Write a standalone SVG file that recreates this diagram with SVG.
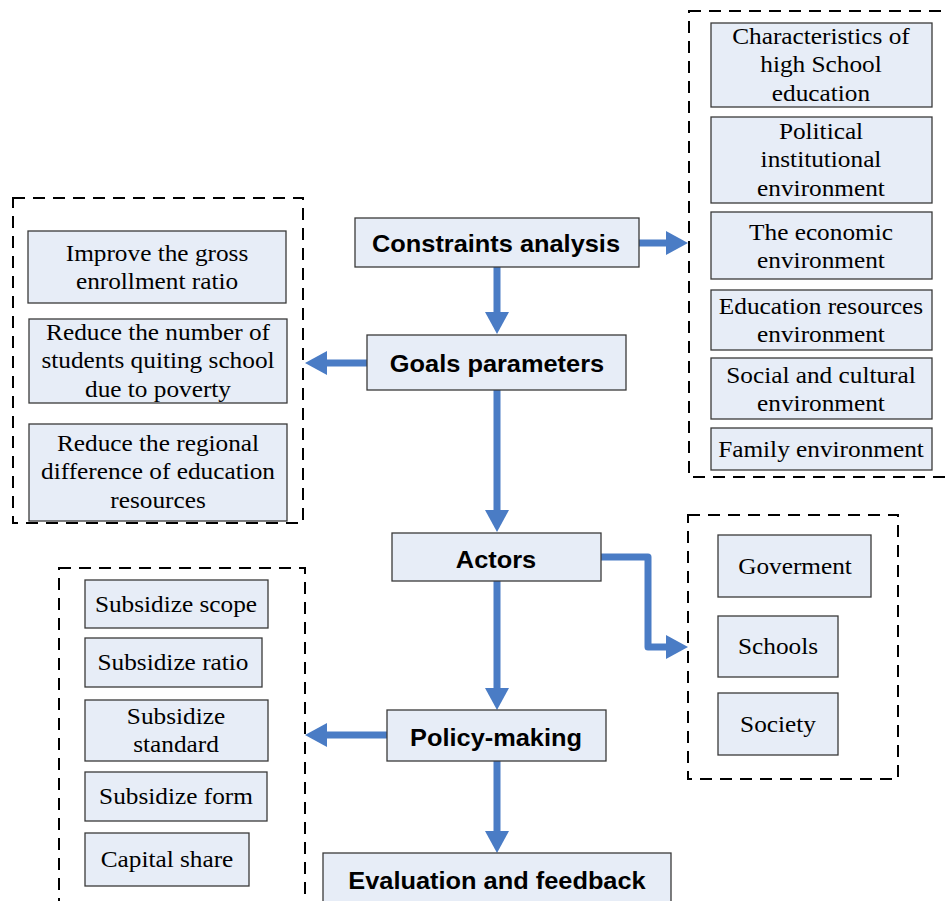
<svg xmlns="http://www.w3.org/2000/svg" width="946" height="901" viewBox="0 0 946 901">
<style>
.bg{fill:#ffffff}
.box{fill:#E7EDF7;stroke:#3a3a3a;stroke-width:1.3}
.dash{fill:none;stroke:#000;stroke-width:2;stroke-dasharray:12 8}
.main{font-family:"Liberation Sans",Arial,sans-serif;font-weight:bold;font-size:23.5px;fill:#000;text-anchor:middle}
.sub{font-family:"Liberation Serif","Times New Roman",serif;font-size:23px;fill:#000;text-anchor:middle}
.conn{fill:none;stroke:#4A7CC5;stroke-width:7;stroke-linecap:round;stroke-linejoin:round}
</style>
<defs>
<marker id="ah" viewBox="0 0 22 24" refX="0" refY="12" markerWidth="22" markerHeight="24" markerUnits="userSpaceOnUse" orient="auto">
<path d="M0,0 L22,12 L0,24 Z" fill="#4A7CC5"/>
</marker>
</defs>
<rect class="bg" x="0" y="0" width="946" height="901"/>

<g id="groups">
<rect id="constraints-group" class="dash" x="689" y="11" width="265" height="466"/>
<rect id="goals-group" class="dash" x="13" y="198" width="290" height="325"/>
<rect id="actors-group" class="dash" x="688" y="515" width="210" height="264"/>
<rect id="policy-group" class="dash" x="59" y="568" width="246" height="345"/>
</g>

<g id="connectors">
<path class="conn" d="M497,267 V312" marker-end="url(#ah)"/>
<path class="conn" d="M639,243 H666" marker-end="url(#ah)"/>
<path class="conn" d="M367,363 H327" marker-end="url(#ah)"/>
<path class="conn" d="M497,390 V510" marker-end="url(#ah)"/>
<path class="conn" d="M601,557 H648 V647 H666" marker-end="url(#ah)"/>
<path class="conn" d="M497,581 V688" marker-end="url(#ah)"/>
<path class="conn" d="M387,735 H327" marker-end="url(#ah)"/>
<path class="conn" d="M497,761 V831" marker-end="url(#ah)"/>
</g>

<g id="n-constraints"><rect class="box" x="355" y="218" width="284" height="49"/>
<text class="main" transform="translate(496 252) scale(1.08 1)">Constraints analysis</text></g>
<g id="n-goals"><rect class="box" x="367" y="335" width="259" height="55"/>
<text class="main" transform="translate(497 372) scale(1.08 1)">Goals parameters</text></g>
<g id="n-actors"><rect class="box" x="392" y="533" width="209" height="48"/>
<text class="main" transform="translate(496 568) scale(1.08 1)">Actors</text></g>
<g id="n-policy"><rect class="box" x="387" y="710" width="219" height="51"/>
<text class="main" transform="translate(496 746) scale(1.08 1)">Policy-making</text></g>
<g id="n-eval"><rect class="box" x="323" y="853" width="348" height="60"/>
<text class="main" transform="translate(497 889) scale(1.08 1)">Evaluation and feedback</text></g>

<g id="n-c1"><rect class="box" x="711" y="23" width="221" height="84"/>
<text class="sub" transform="translate(821 44) scale(1.1 1)"><tspan x="0" y="0">Characteristics of</tspan><tspan x="0" y="28.5">high School</tspan><tspan x="0" y="57">education</tspan></text></g>
<g id="n-c2"><rect class="box" x="711" y="117" width="221" height="86"/>
<text class="sub" transform="translate(821 139) scale(1.1 1)"><tspan x="0" y="0">Political</tspan><tspan x="0" y="28.5">institutional</tspan><tspan x="0" y="57">environment</tspan></text></g>
<g id="n-c3"><rect class="box" x="711" y="212" width="221" height="67"/>
<text class="sub" transform="translate(821 240) scale(1.1 1)"><tspan x="0" y="0">The economic</tspan><tspan x="0" y="28.5">environment</tspan></text></g>
<g id="n-c4"><rect class="box" x="711" y="290" width="221" height="60"/>
<text class="sub" transform="translate(821 314) scale(1.1 1)"><tspan x="0" y="0">Education resources</tspan><tspan x="0" y="28.5">environment</tspan></text></g>
<g id="n-c5"><rect class="box" x="711" y="358" width="221" height="61"/>
<text class="sub" transform="translate(821 383) scale(1.1 1)"><tspan x="0" y="0">Social and cultural</tspan><tspan x="0" y="28.5">environment</tspan></text></g>
<g id="n-c6"><rect class="box" x="711" y="428" width="221" height="42"/>
<text class="sub" transform="translate(821 457) scale(1.1 1)">Family environment</text></g>

<g id="n-g1"><rect class="box" x="28" y="231" width="258" height="72"/>
<text class="sub" transform="translate(157 261) scale(1.1 1)"><tspan x="0" y="0">Improve the gross</tspan><tspan x="0" y="28.5">enrollment ratio</tspan></text></g>
<g id="n-g2"><rect class="box" x="29" y="319" width="258" height="84"/>
<text class="sub" transform="translate(158 340) scale(1.1 1)"><tspan x="0" y="0">Reduce the number of</tspan><tspan x="0" y="28.5">students quiting school</tspan><tspan x="0" y="57">due to poverty</tspan></text></g>
<g id="n-g3"><rect class="box" x="29" y="424" width="258" height="97"/>
<text class="sub" transform="translate(158 451) scale(1.1 1)"><tspan x="0" y="0">Reduce the regional</tspan><tspan x="0" y="28.5">difference of education</tspan><tspan x="0" y="57">resources</tspan></text></g>

<g id="n-a1"><rect class="box" x="718" y="535" width="153" height="62"/>
<text class="sub" transform="translate(795 574) scale(1.1 1)">Goverment</text></g>
<g id="n-a2"><rect class="box" x="718" y="616" width="120" height="61"/>
<text class="sub" transform="translate(778 654) scale(1.1 1)">Schools</text></g>
<g id="n-a3"><rect class="box" x="718" y="693" width="120" height="62"/>
<text class="sub" transform="translate(778 732) scale(1.1 1)">Society</text></g>

<g id="n-p1"><rect class="box" x="85" y="580" width="183" height="48"/>
<text class="sub" transform="translate(176 612) scale(1.1 1)">Subsidize scope</text></g>
<g id="n-p2"><rect class="box" x="85" y="638" width="177" height="49"/>
<text class="sub" transform="translate(173 670) scale(1.1 1)">Subsidize ratio</text></g>
<g id="n-p3"><rect class="box" x="85" y="700" width="183" height="61"/>
<text class="sub" transform="translate(176 724) scale(1.1 1)"><tspan x="0" y="0">Subsidize</tspan><tspan x="0" y="28.5">standard</tspan></text></g>
<g id="n-p4"><rect class="box" x="85" y="772" width="182" height="49"/>
<text class="sub" transform="translate(176 804) scale(1.1 1)">Subsidize form</text></g>
<g id="n-p5"><rect class="box" x="85" y="833" width="164" height="53"/>
<text class="sub" transform="translate(167 867) scale(1.1 1)">Capital share</text></g>
</svg>
